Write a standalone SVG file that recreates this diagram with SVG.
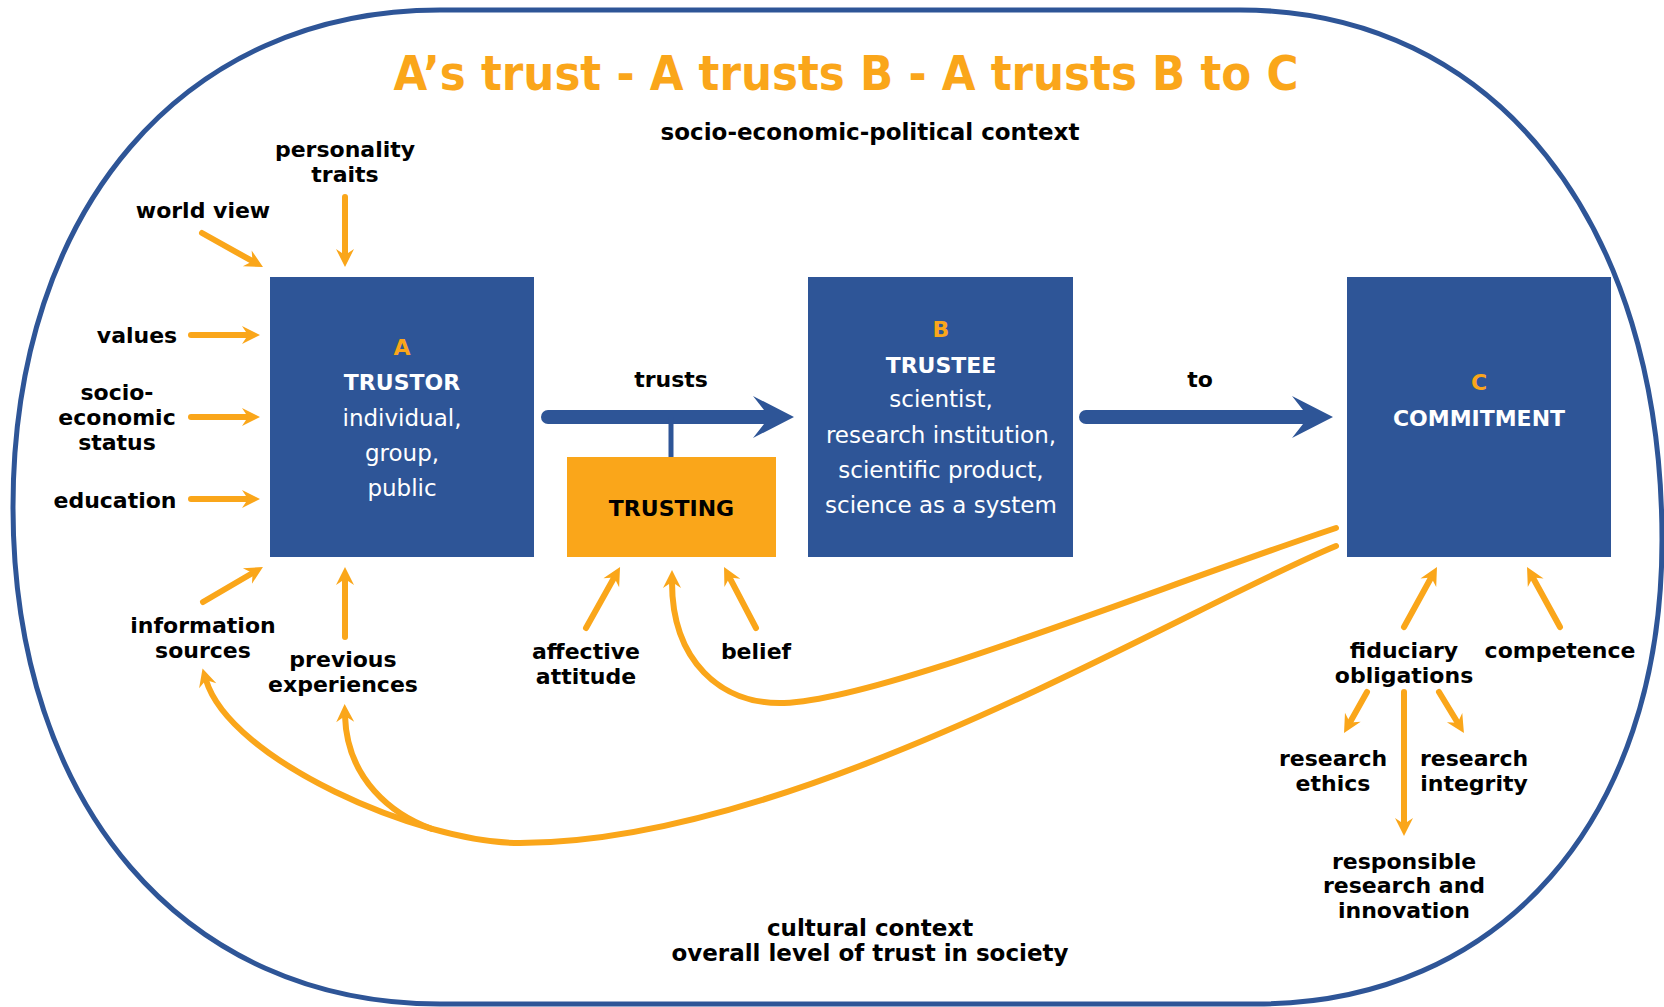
<svg xmlns="http://www.w3.org/2000/svg" width="1664" height="1007" viewBox="0 0 1664 1007">
<style>
.box{fill:#2e5597}
.obox{fill:#faa61a}
.lbl{font-family:"DejaVu Sans","Liberation Sans",sans-serif;font-weight:bold;font-size:22px;fill:#000;text-anchor:middle}
.ctx{font-size:23px}
.hd{font-family:"DejaVu Sans","Liberation Sans",sans-serif;font-weight:bold;font-size:22px;text-anchor:middle}
.let{fill:#faa61a}
.wh{fill:#fff}
.body{font-family:"DejaVu Sans","Liberation Sans",sans-serif;font-size:23px;fill:#fff;text-anchor:middle}
.title{font-family:"DejaVu Sans","Liberation Sans",sans-serif;font-weight:bold;font-size:48px;fill:#faa61a;text-anchor:middle}
.oa{fill:none;stroke:#faa61a;stroke-width:6;stroke-linecap:round;marker-end:url(#ah)}
.bshaft{fill:none;stroke:#2e5597;stroke-width:14;stroke-linecap:round}
.bhead{fill:#2e5597}
</style>
<defs>
<marker id="ah" markerUnits="userSpaceOnUse" viewBox="-2 -11 24 22" markerWidth="24" markerHeight="22" refX="6" refY="0" orient="auto">
<path d="M0,-9 L18,0 L0,9 L6,0 Z" fill="#faa61a"/>
</marker>
</defs>
<rect width="1664" height="1007" fill="#fff"/>
<path id="frame" d="M440,10 H1240 C1494,10 1662,222 1662,540 C1662,820 1500,1004 1256,1004 H440 C184,1004 13,805 13,507 C13,209 184,10 440,10 Z" fill="none" stroke="#2e5597" stroke-width="5"/>
<text class="title" x="846" y="90" textLength="905" lengthAdjust="spacingAndGlyphs">A’s trust - A trusts B - A trusts B to C</text>
<g id="ctx-top"><text class="lbl ctx" x="870" y="140">socio-economic-political context</text></g>
<g id="ctx-bottom"><text class="lbl ctx" x="870" y="936">cultural context</text><text class="lbl ctx" x="870" y="961">overall level of trust in society</text></g>

<g id="connectors">
<line class="oa" x1="202" y1="233" x2="252.5" y2="261.2"/>
<line class="oa" x1="345" y1="197" x2="345" y2="255"/>
<line class="oa" x1="191" y1="335" x2="248" y2="335"/>
<line class="oa" x1="191" y1="417" x2="248" y2="417"/>
<line class="oa" x1="191" y1="499" x2="248" y2="499"/>
<line class="oa" x1="203" y1="602" x2="252.6" y2="573"/>
<line class="oa" x1="345" y1="637" x2="345" y2="579"/>
<line class="oa" x1="586" y1="628" x2="614.2" y2="577.5"/>
<line class="oa" x1="756" y1="628" x2="729.6" y2="577.6"/>
<line class="oa" x1="1404" y1="627" x2="1431.2" y2="577.5"/>
<line class="oa" x1="1560" y1="627" x2="1532.8" y2="577.5"/>
<line class="oa" x1="1367" y1="692" x2="1349.9" y2="722.5"/>
<line class="oa" x1="1439" y1="692" x2="1457.7" y2="722.8"/>
<line class="oa" x1="1404" y1="692" x2="1404" y2="824"/>
<path class="oa" d="M1336,528 C1150,590 880,700 784,703 C720,705 672,660 672,582"/>
<path class="oa" d="M1336,546 C1180,610 800,843 520,843 C420,843 230,760 206,680"/>
<path class="oa" d="M432,829 C393,815 347,780 345,716"/>
<line class="bshaft" x1="548" y1="417" x2="764" y2="417"/>
<polygon class="bhead" points="753,396 794,417 753,438 764,424 764,410"/>
<line x1="671" y1="417" x2="671" y2="458" stroke="#2e5597" stroke-width="5"/>
<line class="bshaft" x1="1086" y1="417" x2="1303" y2="417"/>
<polygon class="bhead" points="1292,396 1333,417 1292,438 1303,424 1303,410"/>
</g>

<g id="node-A">
<rect class="box" x="270" y="277" width="264" height="280"/>
<text class="hd let" x="402" y="355">A</text>
<text class="hd wh" x="402" y="390">TRUSTOR</text>
<text class="body" x="402" y="426">individual,</text>
<text class="body" x="402" y="461">group,</text>
<text class="body" x="402" y="496">public</text>
</g>
<g id="node-trusting">
<rect class="obox" x="567" y="457" width="209" height="100"/>
<text class="lbl" x="671.5" y="516">TRUSTING</text>
</g>
<g id="node-B">
<rect class="box" x="808" y="277" width="265" height="280"/>
<text class="hd let" x="941" y="337">B</text>
<text class="hd wh" x="941" y="373">TRUSTEE</text>
<text class="body" x="941" y="407">scientist,</text>
<text class="body" x="941" y="443">research institution,</text>
<text class="body" x="941" y="478">scientific product,</text>
<text class="body" x="941" y="513">science as a system</text>
</g>
<g id="node-C">
<rect class="box" x="1347" y="277" width="264" height="280"/>
<text class="hd let" x="1479" y="390">C</text>
<text class="hd wh" x="1479" y="426">COMMITMENT</text>
</g>

<g id="label-trusts"><text class="lbl" x="671" y="387">trusts</text></g>
<g id="label-to"><text class="lbl" x="1200" y="387">to</text></g>
<g id="n-personality"><text class="lbl" x="345" y="157">personality</text><text class="lbl" x="345" y="182">traits</text></g>
<g id="n-worldview"><text class="lbl" x="203" y="218">world view</text></g>
<g id="n-values"><text class="lbl" x="137" y="343">values</text></g>
<g id="n-socio"><text class="lbl" x="117" y="400">socio-</text><text class="lbl" x="117" y="425">economic</text><text class="lbl" x="117" y="450">status</text></g>
<g id="n-education"><text class="lbl" x="115" y="508">education</text></g>
<g id="n-info"><text class="lbl" x="203" y="633">information</text><text class="lbl" x="203" y="658">sources</text></g>
<g id="n-previous"><text class="lbl" x="343" y="667">previous</text><text class="lbl" x="343" y="692">experiences</text></g>
<g id="n-affective"><text class="lbl" x="586" y="659">affective</text><text class="lbl" x="586" y="684">attitude</text></g>
<g id="n-belief"><text class="lbl" x="756" y="659">belief</text></g>
<g id="n-fiduciary"><text class="lbl" x="1404" y="658">fiduciary</text><text class="lbl" x="1404" y="683">obligations</text></g>
<g id="n-competence"><text class="lbl" x="1560" y="658">competence</text></g>
<g id="n-ethics"><text class="lbl" x="1333" y="766">research</text><text class="lbl" x="1333" y="791">ethics</text></g>
<g id="n-integrity"><text class="lbl" x="1474" y="766">research</text><text class="lbl" x="1474" y="791">integrity</text></g>
<g id="n-rri"><text class="lbl" x="1404" y="869">responsible</text><text class="lbl" x="1404" y="893">research and</text><text class="lbl" x="1404" y="918">innovation</text></g>
</svg>
